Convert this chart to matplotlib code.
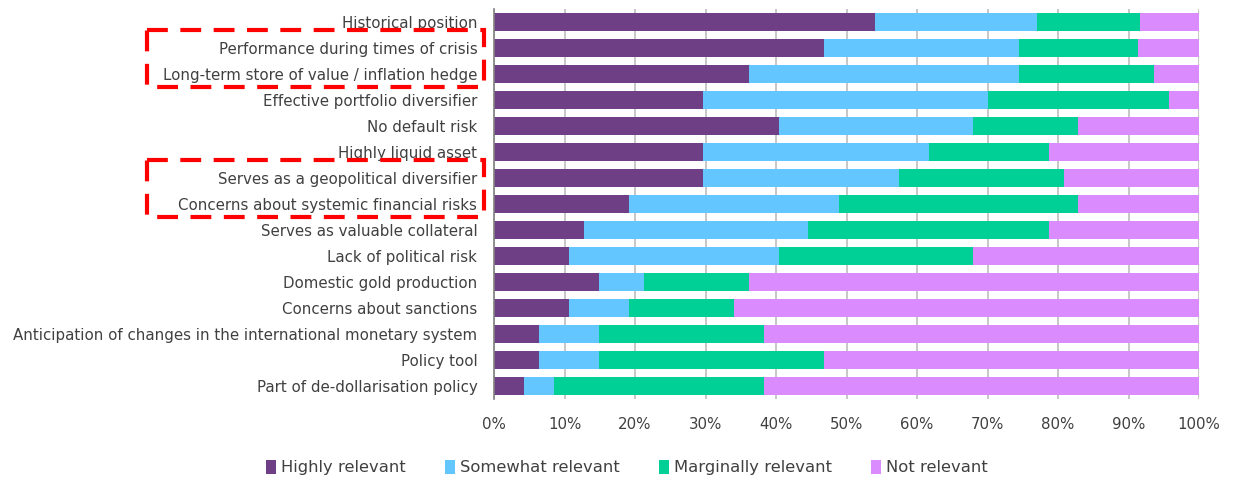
import numpy as np
import matplotlib.pyplot as plt
from matplotlib.patches import Rectangle
import matplotlib.transforms as mtransforms

# reasons, top to bottom
reasons = [
    "Historical position",
    "Performance during times of crisis",
    "Long-term store of value / inflation hedge",
    "Effective portfolio diversifier",
    "No default risk",
    "Highly liquid asset",
    "Serves as a geopolitical diversifier",
    "Concerns about systemic financial risks",
    "Serves as valuable collateral",
    "Lack of political risk",
    "Domestic gold production",
    "Concerns about sanctions",
    "Anticipation of changes in the international monetary system",
    "Policy tool",
    "Part of de-dollarisation policy",
]

# share of respondents, %
highly = [54.1, 46.8, 36.1, 29.7, 40.4, 29.7, 29.7, 19.1, 12.8, 10.6, 14.9, 10.6, 6.4, 6.4, 4.2]
somewhat = [22.9, 27.7, 38.4, 40.4, 27.6, 32.0, 27.7, 29.8, 31.8, 29.8, 6.4, 8.5, 8.5, 8.5, 4.3]
marginally = [14.6, 16.9, 19.1, 25.6, 14.9, 17.0, 23.4, 34.0, 34.1, 27.6, 14.8, 14.9, 23.4, 31.9, 29.8]
not_relevant = [100 - h - s - m for h, s, m in zip(highly, somewhat, marginally)]

series = [
    ("Highly relevant", highly, "#6F3F85"),
    ("Somewhat relevant", somewhat, "#63C6FF"),
    ("Marginally relevant", marginally, "#00D095"),
    ("Not relevant", not_relevant, "#DA8CFF"),
]

text_color = "#404040"
fs = 10.8
plt.rcParams['font.family'] = ['DejaVu Sans']

fig = plt.figure(figsize=(12.34, 4.83), dpi=100)
ax = fig.add_axes([494 / 1234, 1 - 399 / 483, 705 / 1234, 390 / 483])

y = np.arange(len(reasons))
left = np.zeros(len(reasons))
for name, vals, color in series:
    ax.barh(y, vals, left=left, height=0.69, color=color, label=name, zorder=2)
    left += np.array(vals)

ax.set_xlim(0, 100)
ax.set_ylim(len(reasons) - 0.5, -0.5)
ax.set_yticks(y)
ax.set_yticklabels(reasons, fontsize=fs, color=text_color)
ax.set_xticks(np.arange(0, 101, 10))
ax.set_xticklabels([f"{v}%" for v in range(0, 101, 10)], fontsize=fs, color=text_color)
ax.tick_params(axis="y", length=0, pad=12)
ax.tick_params(axis="x", length=0, pad=13)

ax.grid(axis="x", color="#BDBDBD", linewidth=1.2, zorder=0)
for side in ["top", "right", "bottom"]:
    ax.spines[side].set_visible(False)
ax.spines["left"].set_color("#808080")
ax.spines["left"].set_linewidth(1.2)
ax.spines["left"].set_zorder(3)

# red dashed boxes around highlighted reasons
trans = mtransforms.blended_transform_factory(ax.transAxes, ax.transData)
for top_row, bottom_row in [(1, 2), (6, 7)]:
    box = Rectangle(
        (-0.492, top_row - 0.69), 0.478, (bottom_row - top_row) + 1.19,
        transform=trans, fill=False, edgecolor="#FF0000",
        linewidth=3, linestyle=(0, (5, 3)), clip_on=False, zorder=5,
    )
    ax.add_patch(box)

fig.legend(
    loc="lower center", bbox_to_anchor=(0.508, -0.015), ncol=4,
    frameon=False, fontsize=11.8, handlelength=0.6, handleheight=0.9,
    handletextpad=0.3, columnspacing=2.4, labelcolor=text_color,
)

plt.savefig("out.png", dpi=100)
